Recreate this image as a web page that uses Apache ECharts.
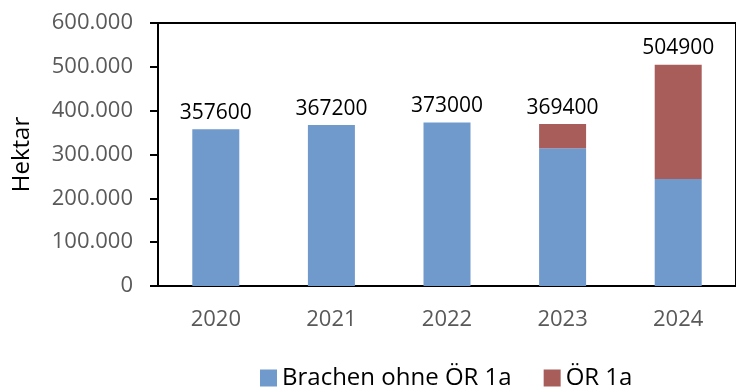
<!DOCTYPE html>
<html>
<head>
<meta charset="utf-8">
<script src="https://cdn.jsdelivr.net/npm/echarts@6/dist/echarts.min.js"></script>
<style>
  html, body { margin: 0; padding: 0; background: #fff; }
  #chart { width: 736px; height: 389px; }
</style>
</head>
<body>
<div id="chart"></div>
<script>
// Brachflächen in Hektar je Jahr
const years = ['2020', '2021', '2022', '2023', '2024'];
const brachenOhneOR1a = [357600, 367200, 373000, 314000, 244000];
const or1a = [0, 0, 0, 55400, 260900];
const yTicks = [0, 100000, 200000, 300000, 400000, 500000, 600000];

const FONT = "'Open Sans', sans-serif";

function fmtThousands(v) {
  return String(v).replace(/\B(?=(\d{3})+(?!\d))/g, '.');
}

const chart = echarts.init(document.getElementById('chart'), null, { renderer: 'canvas' });

chart.setOption({
  animation: false,
  textStyle: { fontFamily: FONT },
  grid: {
    left: 158, top: 23, width: 583, height: 263,
    show: true, borderColor: '#000', borderWidth: 2, backgroundColor: 'transparent'
  },
  legend: {
    left: 255, top: 361,
    itemWidth: 17, itemHeight: 17, itemGap: 32,
    icon: 'rect',
    textStyle: { fontFamily: FONT, fontSize: 24, color: '#000' },
    data: ['Brachen ohne ÖR 1a', 'ÖR 1a']
  },
  xAxis: {
    type: 'category',
    data: years,
    axisLine: { lineStyle: { color: '#000', width: 2 } },
    axisTick: { alignWithLabel: true, length: 6, lineStyle: { color: '#000', width: 2 } },
    axisLabel: { color: '#595959', fontSize: 22, margin: 23, fontFamily: FONT }
  },
  yAxis: {
    type: 'value',
    min: yTicks[0], max: yTicks[yTicks.length - 1], interval: yTicks[1] - yTicks[0],
    name: 'Hektar',
    nameLocation: 'middle',
    nameGap: 124,
    nameRotate: 90,
    nameTextStyle: { color: '#000', fontSize: 24, fontFamily: FONT },
    axisLine: { show: true, lineStyle: { color: '#000', width: 2 } },
    axisTick: { show: true, length: 8, lineStyle: { color: '#000', width: 2 } },
    splitLine: { show: false },
    axisLabel: { color: '#595959', fontSize: 22, margin: 25, fontFamily: FONT, formatter: fmtThousands }
  },
  series: [
    {
      name: 'Brachen ohne ÖR 1a',
      type: 'bar',
      stack: 'gesamt',
      barWidth: 47,
      itemStyle: { color: '#7099CC' },
      data: brachenOhneOR1a
    },
    {
      name: 'ÖR 1a',
      type: 'bar',
      stack: 'gesamt',
      barWidth: 47,
      itemStyle: { color: '#A85D5B' },
      label: {
        show: true,
        position: 'top',
        distance: 6,
        color: '#000',
        fontSize: 21,
        fontFamily: FONT,
        formatter: p => String(brachenOhneOR1a[p.dataIndex] + or1a[p.dataIndex])
      },
      data: or1a
    }
  ]
});
</script>
</body>
</html>
